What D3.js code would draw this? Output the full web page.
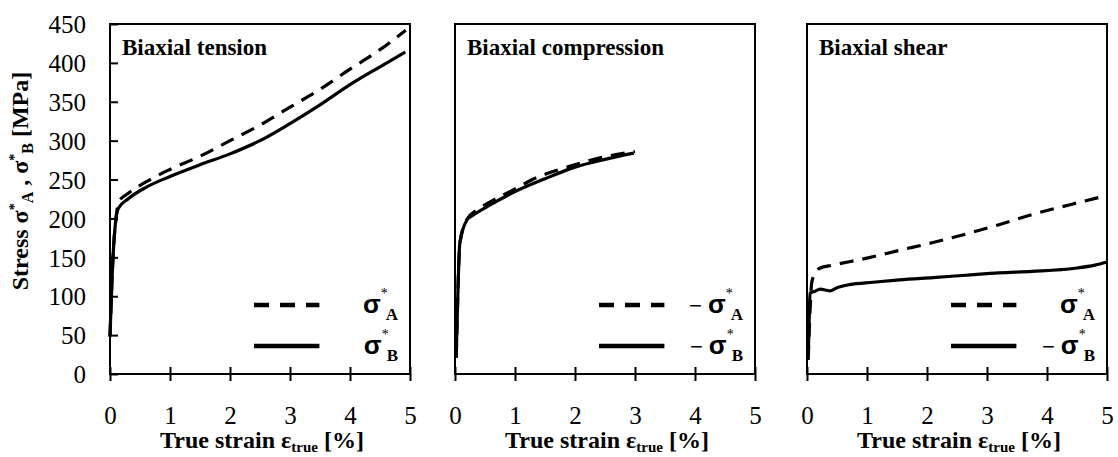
<meta charset="utf-8">
<style>
body { margin: 0; background: #fff; }
.frame { fill: none; stroke: #000; stroke-width: 2; }
.axis path, .axis line { stroke: #000; stroke-width: 2; }
.curve { fill: none; stroke: #000; stroke-width: 3.2; stroke-linejoin: round; }
.curve.A { stroke-dasharray: 14,9; }
</style>
<body>
<svg id="chart" width="1118" height="457"></svg>
<script src="https://d3js.org/d3.v7.min.js"></script>
<script>

var titles = ["Biaxial tension", "Biaxial compression", "Biaxial shear"];
var legendSign = [["", ""], ["\u2212", "\u2212"], ["", "\u2212"]];
var xTicks = [0, 1, 2, 3, 4, 5];
var yTicks = [0, 50, 100, 150, 200, 250, 300, 350, 400, 450];

// [strain %, stress MPa]
var tensionA = [[0,48],[0.05,150],[0.1,200],[0.15,222],[0.3,232],[0.6,247],[1,263],[1.5,280],[2,300],[2.5,320],[3,343],[3.5,366],[4,392],[4.5,417],[4.93,442]];
var tensionB = [[0,48],[0.05,150],[0.1,200],[0.14,213],[0.3,225],[0.6,240],[1,254],[1.5,269],[2,283],[2.5,300],[3,322],[3.5,346],[4,372],[4.5,395],[4.92,414]];
var compA = [[0.02,21],[0.05,110],[0.08,168],[0.2,199],[0.35,210],[0.58,221],[1,238],[1.29,250],[1.7,262],[2.18,273],[2.6,281],[3,286]];
var compB = [[0.02,21],[0.05,110],[0.08,168],[0.2,198],[0.3,204],[0.6,218],[0.96,233],[1.5,251],[2,266],[2.5,276],[2.98,284]];
var shearA = [[0.02,18],[0.05,80],[0.08,118],[0.14,130],[0.21,136],[0.43,140],[1,149],[1.54,159],[2.1,169],[2.65,180],[3.2,192],[3.75,205],[4.4,218],[4.97,229]];
var shearB = [[0.02,22],[0.04,80],[0.05,104],[0.12,106],[0.22,109],[0.38,107],[0.5,111],[0.71,115],[1.1,118],[1.54,121],[2.1,124],[2.65,127],[3.2,130],[3.75,132],[4.47,136],[4.8,140],[5,144]];

var seriesA = [tensionA, compA, shearA];
var seriesB = [tensionB, compB, shearB];

var SERIF = "Liberation Serif";
var SANS = "Liberation Sans";

var svg = d3.select("#chart");
var top0 = 24, bottom0 = 374;
var panelLeft = [110, 455, 807], panelW = 300;

var y = d3.scaleLinear().domain([0, 450]).range([bottom0, top0]);

titles.forEach(function(t, i) {
  var x = d3.scaleLinear().domain([0, 5]).range([panelLeft[i], panelLeft[i] + panelW]);
  var g = svg.append("g");

  g.append("rect").attr("class", "frame")
    .attr("x", x(0)).attr("y", y(450))
    .attr("width", x(5) - x(0)).attr("height", y(0) - y(450));

  // x axis, ticks cross the line
  var xa = g.append("g").attr("class", "axis")
    .attr("transform", "translate(0," + y(0) + ")")
    .call(d3.axisBottom(x).tickValues(xTicks).tickSize(7).tickSizeOuter(0).tickPadding(0).tickFormat(d3.format("d")));
  xa.attr("font-family", SERIF);
  xa.selectAll(".tick line").attr("y1", -7);
  xa.selectAll(".tick text").attr("class", "tk").attr("y", 50).attr("dy", 0);
  xa.select(".domain").remove();

  if (i === 0) {
    var ya = g.append("g").attr("class", "axis")
      .attr("transform", "translate(" + x(0) + ",0)")
      .call(d3.axisLeft(y).tickValues(yTicks).tickSize(8).tickSizeOuter(0).tickPadding(16));
    ya.attr("font-family", SERIF);
    ya.selectAll(".tick line").attr("x2", 8);
    ya.selectAll(".tick text").attr("class", "tk").attr("dy", "0.35em");
    ya.select(".domain").remove();
  }

  var line = d3.line().x(function(d) { return x(d[0]); }).y(function(d) { return y(d[1]); }).curve(d3.curveMonotoneX);
  g.append("path").datum(seriesB[i]).attr("class", "curve B").attr("d", line);
  g.append("path").datum(seriesA[i]).attr("class", "curve A").attr("d", line);

  g.append("text").attr("class", "title")
    .attr("x", x(0) + 12).attr("y", y(450) + 31).text(t);

  // x label
  var xl = g.append("text").attr("class", "xlab")
    .attr("x", x(2.5) + 2).attr("y", 448).attr("text-anchor", "middle");
  xl.append("tspan").text("True strain \u03b5");
  xl.append("tspan").attr("data-fs", 15).attr("dy", 4).text("true");
  xl.append("tspan").attr("dy", -4).text(" [%]");

  // legend
  var lx0 = x(2.40), lx1 = x(3.49);
  [["A", 305], ["B", 346]].forEach(function(s, k) {
    g.append("line").attr("class", "curve " + s[0])
      .attr("x1", lx0).attr("x2", lx1).attr("y1", s[1]).attr("y2", s[1])
      .style("stroke-width", 4.5).style("stroke-dasharray", k === 0 ? "15,11" : null);
    var txt = g.append("text").attr("class", "leg")
      .attr("x", x(5) - 12).attr("y", s[1] + 8).attr("text-anchor", "end");
    txt.append("tspan").attr("class", "sans").attr("data-fw", "normal").text(legendSign[i][k] ? legendSign[i][k] + " " : "");
    txt.append("tspan").attr("class", "sans").attr("data-fs", 26).text("\u03c3");
    txt.append("tspan").attr("data-fs", 14).attr("data-fw", "normal").attr("dy", -15).text("*");
    txt.append("tspan").attr("data-fs", 17).attr("dy", 22).attr("dx", -2).text(s[0]);
  });
});

// y label
var yl = svg.append("text").attr("class", "xlab")
  .attr("transform", "translate(28,181) rotate(-90)")
  .attr("text-anchor", "middle");
yl.append("tspan").text("Stress \u03c3");
yl.append("tspan").attr("data-fs", 14).attr("dy", -9).text("*");
yl.append("tspan").attr("data-fs", 16).attr("dy", 14).text("A");
yl.append("tspan").attr("dy", -5).text(" , \u03c3");
yl.append("tspan").attr("data-fs", 14).attr("dy", -9).text("*");
yl.append("tspan").attr("data-fs", 16).attr("dy", 14).text("B");
yl.append("tspan").attr("dy", -5).text(" [MPa]");

// fonts, set as attributes and inline on every text and tspan
var sizes = { tk: 25, title: 23, xlab: 24, leg: 22 };
svg.selectAll("text").each(function() {
  var el = d3.select(this), c = el.attr("class");
  el.attr("font-family", SERIF)
    .style("font-family", SERIF, "important")
    .style("font-size", (sizes[c] || 24) + "px", "important")
    .style("font-weight", c === "tk" ? "normal" : "bold", "important")
    .style("fill", "#000");
});
svg.selectAll("tspan").each(function() {
  var el = d3.select(this), fam = el.classed("sans") ? SANS : SERIF;
  el.attr("font-family", fam).style("font-family", fam, "important");
  if (el.attr("data-fs")) el.style("font-size", el.attr("data-fs") + "px", "important");
  if (el.attr("data-fw")) el.style("font-weight", el.attr("data-fw"), "important");
});

</script>
